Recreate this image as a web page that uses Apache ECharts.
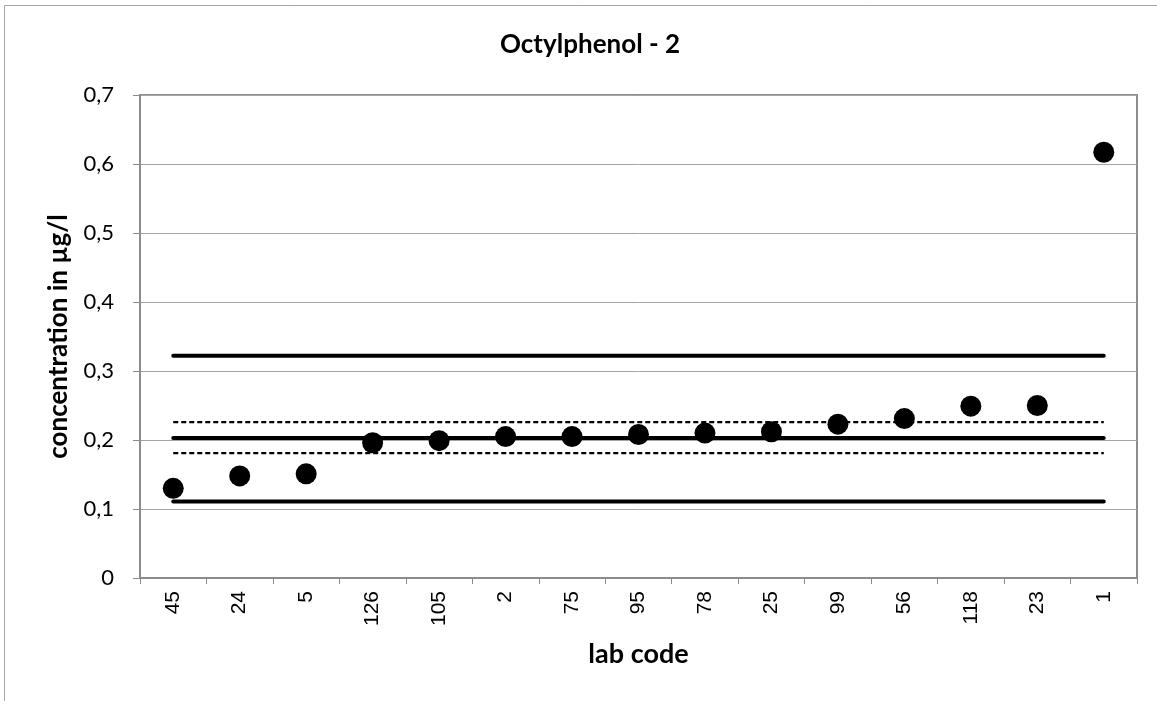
<!DOCTYPE html>
<html>
<head>
<meta charset="utf-8">
<script src="https://cdn.jsdelivr.net/npm/echarts@6/dist/echarts.min.js"></script>
<style>
html,body{margin:0;padding:0;background:#fff;}
#chart{width:1157px;height:701px;}
</style>
</head>
<body>
<div id="chart"></div>
<script>
var labCodes = ['45','24','5','126','105','2','75','95','78','25','99','56','118','23','1'];
var concentrations = [0.130,0.148,0.151,0.196,0.199,0.205,0.205,0.208,0.210,0.212,0.223,0.231,0.249,0.250,0.617];
var assignedValue = 0.203;
var lowerLimit = 0.111;
var upperLimit = 0.322;
var lowerUncertainty = 0.181;
var upperUncertainty = 0.226;
var yTicks = [0,0.1,0.2,0.3,0.4,0.5,0.6,0.7];

function constant(v){ return labCodes.map(function(){ return v; }); }

var chart = echarts.init(document.getElementById('chart'), null, {renderer:'canvas'});
var solid = {color:'#000', width:4, type:'solid', cap:'round'};
var dashed = {color:'#000', width:2.2, type:[5,3]};
var boldFont = 'Lato, "Open Sans", sans-serif';
chart.setOption({
  animation:false,
  backgroundColor:'#fff',
  graphic:[{type:'rect', shape:{x:4.5,y:5.5,width:1300,height:900}, style:{fill:'none', stroke:'#a6a6a6', lineWidth:1}, silent:true, z:-1}],
  title:{text:'Octylphenol - 2', left:585, top:27, textAlign:'center',
    textStyle:{fontFamily:boldFont, fontWeight:'bold', fontSize:26, color:'#000'}},
  grid:{left:140, right:20, top:95, bottom:123, show:true, borderColor:'#8c8c8c', borderWidth:2, containLabel:false},
  xAxis:{type:'category', data:labCodes, boundaryGap:true,
    name:'lab code', nameLocation:'middle', nameGap:63,
    nameTextStyle:{fontFamily:boldFont, fontWeight:'bold', fontSize:27, color:'#000'},
    axisLine:{show:true, lineStyle:{color:'#8c8c8c', width:2}},
    axisTick:{show:true, alignWithLabel:false, length:6, lineStyle:{color:'#8c8c8c', width:1}},
    axisLabel:{rotate:90, interval:0, margin:13, fontFamily:'"Liberation Sans", Arial, sans-serif', fontSize:21, color:'#000'},
    splitLine:{show:false}},
  yAxis:{type:'value', min:0, max:0.7, interval:0.1,
    name:'concentration in µg/l', nameLocation:'middle', nameGap:68,
    nameTextStyle:{fontFamily:boldFont, fontWeight:'bold', fontSize:26, color:'#000'},
    axisLine:{show:true, lineStyle:{color:'#8c8c8c', width:2}},
    axisTick:{show:true, length:7, lineStyle:{color:'#8c8c8c', width:1}},
    axisLabel:{margin:26, fontFamily:boldFont, fontSize:22, color:'#000',
      formatter:function(v){ var t = yTicks.find(function(x){return Math.abs(x-v)<1e-9;}); return String(t===undefined?v:t).replace('.',','); }},
    splitLine:{show:true, lineStyle:{color:'#a6a6a6', width:1}}},
  series:[
    {type:'line', data:constant(upperLimit), symbol:'none', lineStyle:solid, z:2},
    {type:'line', data:constant(lowerLimit), symbol:'none', lineStyle:solid, z:2},
    {type:'line', data:constant(assignedValue), symbol:'none', lineStyle:solid, z:2},
    {type:'line', data:constant(upperUncertainty), symbol:'none', lineStyle:dashed, z:2},
    {type:'line', data:constant(lowerUncertainty), symbol:'none', lineStyle:dashed, z:2},
    {type:'scatter', data:concentrations, symbol:'circle', symbolSize:21, itemStyle:{color:'#000', opacity:1}, z:5}
  ]
});
</script>
</body>
</html>
